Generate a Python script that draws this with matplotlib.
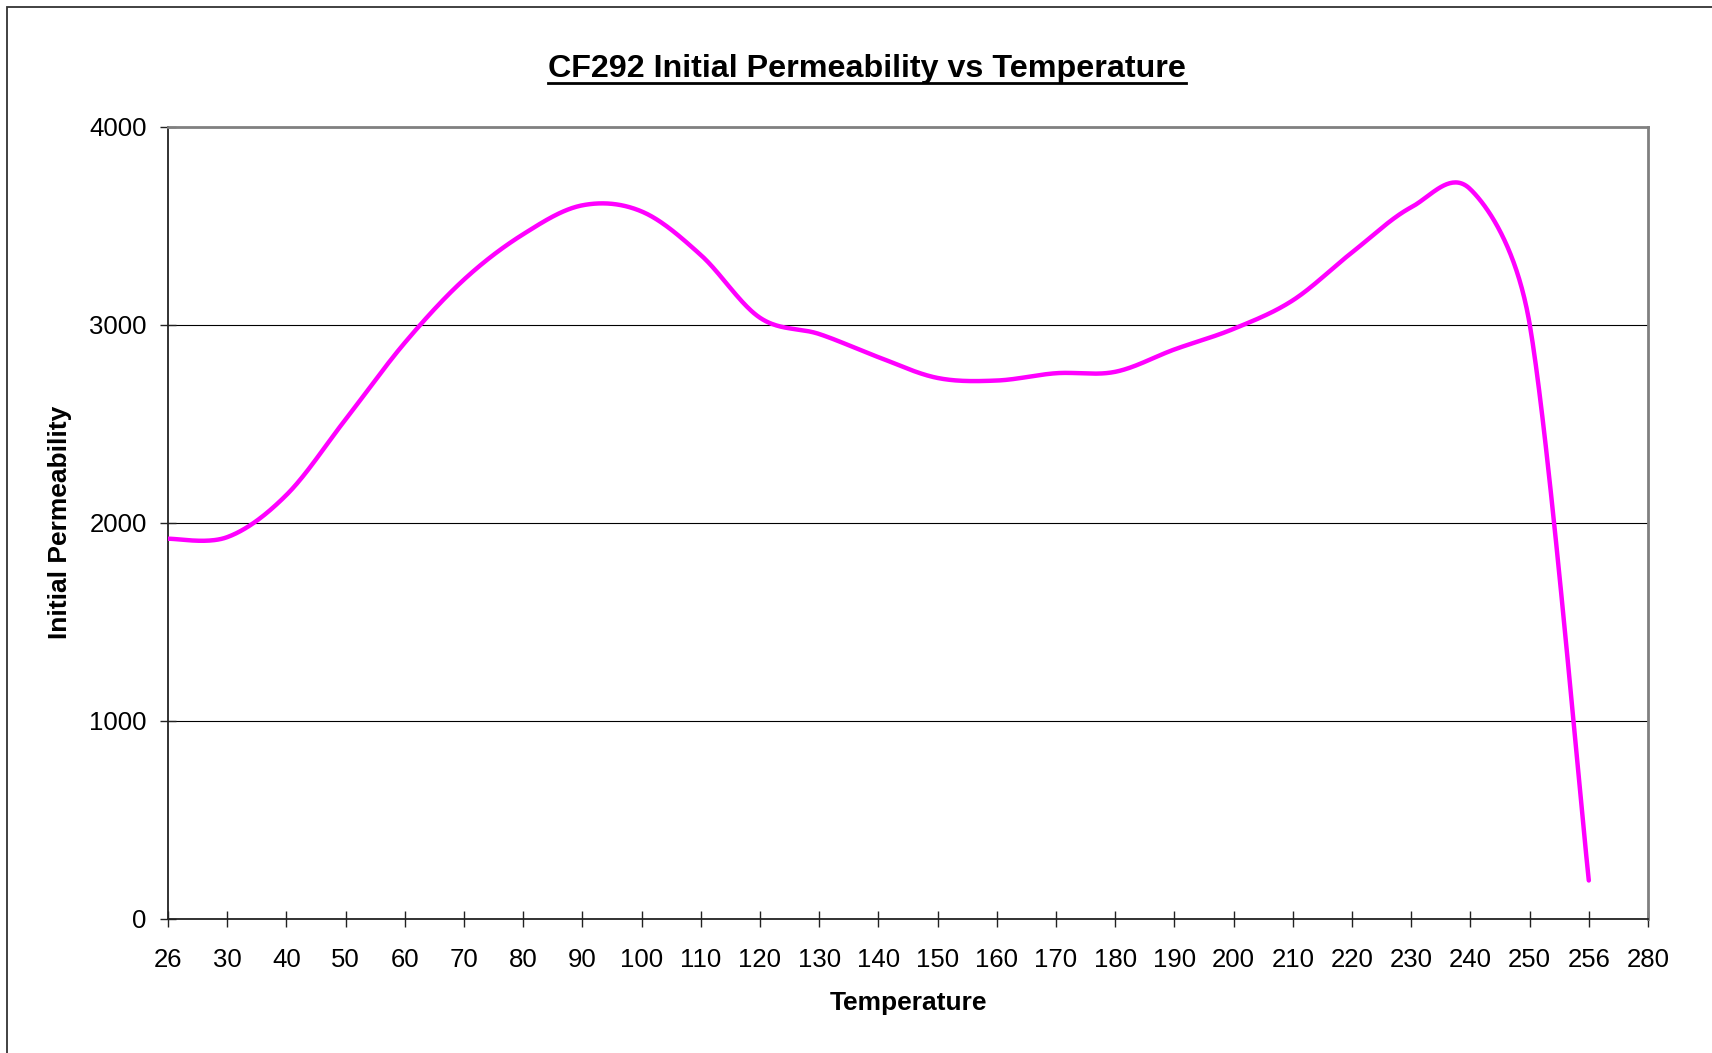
import numpy as np
import matplotlib
matplotlib.use("Agg")
import matplotlib.pyplot as plt
from matplotlib.lines import Line2D
from matplotlib.patches import Rectangle

plt.rcParams["font.family"] = ["Liberation Sans", "DejaVu Sans"]

# category axis (Excel line chart): tick labels are categories, equally spaced
temps = ["26", "30", "40", "50", "60", "70", "80", "90", "100", "110", "120",
         "130", "140", "150", "160", "170", "180", "190", "200", "210", "220",
         "230", "240", "250", "256", "280"]
perm = [1919, 1927, 2140, 2522, 2909, 3228, 3457, 3603, 3572, 3352, 3035,
        2953, 2836, 2731, 2718, 2755, 2762, 2875, 2979, 3123, 3365,
        3593, 3684, 3005, 193, np.nan]

# axes box in pixels
AX_L, AX_B, AX_W, AX_H = 168, 1053 - 918.7, 1480, 792


def smooth(y, xpx, ypx, n=40):
    # Bezier smoothing done in screen space, the way Excel draws a
    # "smoothed line": control arm = (next - prev) / 6, capped at half
    # the segment length
    y = np.asarray(y, float)
    P = np.column_stack([np.arange(len(y)) * xpx, y * ypx])
    P = np.vstack([P[0], P, P[-1]])
    t = np.linspace(0, 1, n, endpoint=False)[:, None]
    out = []
    for i in range(1, len(P) - 2):
        half = np.linalg.norm(P[i + 1] - P[i]) / 2
        c0 = (P[i + 1] - P[i - 1]) / 6
        c1 = (P[i + 2] - P[i]) / 6
        for c in (c0, c1):
            L = np.linalg.norm(c)
            if L > half:
                c *= half / L
        b0, b1, b2, b3 = P[i], P[i] + c0, P[i + 1] - c1, P[i + 1]
        out.append((1 - t)**3 * b0 + 3 * (1 - t)**2 * t * b1
                   + 3 * (1 - t) * t**2 * b2 + t**3 * b3)
    out.append(P[-2][None, :])
    out = np.vstack(out)
    return out[:, 0] / xpx, out[:, 1] / ypx


vals = np.array(perm, float)
ok = ~np.isnan(vals)
sx, sy = smooth(vals[ok], AX_W / (len(temps) - 1), AX_H / 4000)

fig = plt.figure(figsize=(17.12, 10.53), dpi=100)
ax = fig.add_axes([AX_L / 1712, AX_B / 1053, AX_W / 1712, AX_H / 1053])

ax.plot(sx, sy, color="#FF00FF", lw=3.2, solid_capstyle="round", zorder=3)

ax.set_xlim(0, len(temps) - 1)
ax.set_ylim(0, 4000)
ax.set_xticks(range(len(temps)))
ax.set_xticklabels(temps)
ax.set_yticks([0, 1000, 2000, 3000, 4000])

ax.yaxis.grid(True, color="black", lw=0.8)
ax.set_axisbelow(True)

ax.tick_params(axis="both", direction="inout", length=11.5, width=1,
               labelsize=18.5, color="#222222")
ax.tick_params(axis="y", pad=9.6)
ax.tick_params(axis="x", pad=15)

for s in ["left", "bottom"]:
    ax.spines[s].set_color("#222222")
    ax.spines[s].set_linewidth(1.3)
for s in ["top", "right"]:
    ax.spines[s].set_color("#808080")
    ax.spines[s].set_linewidth(2)

ax.set_xlabel("Temperature", fontsize=19, fontweight="bold")
ax.xaxis.set_label_coords(0.5, (918.7 - 1003) / 792)
ax.xaxis.label.set_verticalalignment("center")
ax.set_ylabel("Initial Permeability", fontsize=19, fontweight="bold")
ax.yaxis.set_label_coords((60 - 168) / 1480, 0.5)
ax.yaxis.label.set_verticalalignment("center")

title = fig.text(867 / 1712, 1 - 69 / 1053,
                 "CF292 Initial Permeability vs Temperature",
                 ha="center", va="center", fontsize=23.2, fontweight="bold")

# underline the title
fig.canvas.draw()
bb = title.get_window_extent()
uy = 1 - 83 / 1053
fig.add_artist(Line2D([bb.x0 / 1712, bb.x1 / 1712], [uy, uy],
                      transform=fig.transFigure, color="black", lw=2))

# chart area frame (runs off the right and bottom of the image)
fig.add_artist(Rectangle((7 / 1712, -0.1), 1.2, 1.1 - 7 / 1053,
                         transform=fig.transFigure, fill=False,
                         ec="#333333", lw=1.3))

fig.savefig("out.png", dpi=100)
